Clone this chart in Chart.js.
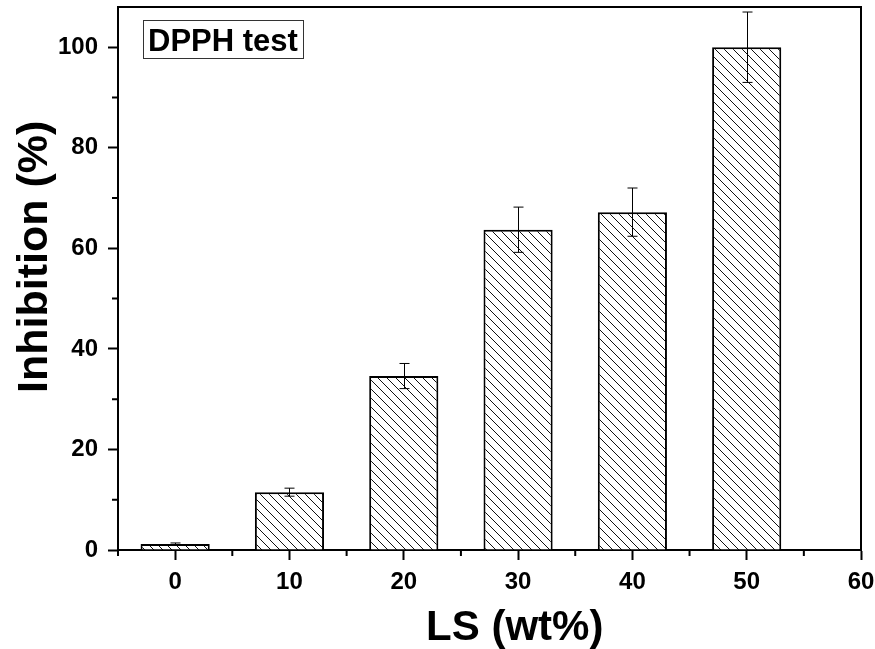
<!DOCTYPE html>
<html>
<head>
<meta charset="utf-8">
<script src="https://cdn.jsdelivr.net/npm/chart.js@4"></script>
<style>
  body { margin: 0; background: #fff; }
  #wrap { width: 875px; height: 649px; position: relative; }
</style>
</head>
<body>
<div id="wrap"><canvas id="myChart"></canvas></div>
<script>
// data
const lsValues = [0, 10, 20, 30, 40, 50];
const inhibition = [1.2, 11.5, 34.6, 63.7, 67.2, 100.0];
const errors = [0.2, 0.8, 2.5, 4.5, 4.8, 7.0];

// minor tick positions (major ones come from the scales)
const minorX = [-5, 5, 15, 25, 35, 45, 55];
const minorY = [10, 30, 50, 70, 90];

const FONT = "'Liberation Sans', Arial, sans-serif";

// diagonal hatch like the origin plot
function makeHatch(size) {
    const c = document.createElement('canvas');
    c.width = size;
    c.height = size;
    const g = c.getContext('2d');
    g.fillStyle = '#fff';
    g.fillRect(0, 0, size, size);
    g.strokeStyle = '#111';
    g.lineWidth = 1;
    g.beginPath();
    g.moveTo(-1, -1); g.lineTo(size + 1, size + 1);
    g.moveTo(size - 1, -1); g.lineTo(size + 1, 1);
    g.moveTo(-1, size - 1); g.lineTo(1, size + 1);
    g.stroke();
    return g.createPattern(c, 'repeat');
}

// error bars, minor ticks, frame and labels
const extras = {
    id: 'extras',
    afterDatasetsDraw(chart) {
        const ctx = chart.ctx;
        const xs = chart.scales.x, ys = chart.scales.y;
        ctx.save();
        ctx.strokeStyle = '#000';
        ctx.lineWidth = 1;
        lsValues.forEach((v, i) => {
            const x = Math.round(xs.getPixelForValue(v)) + 0.5;
            const top = ys.getPixelForValue(inhibition[i] + errors[i]);
            const bot = ys.getPixelForValue(inhibition[i] - errors[i]);
            ctx.beginPath();
            ctx.moveTo(x, top); ctx.lineTo(x, bot);
            ctx.moveTo(x - 5, top); ctx.lineTo(x + 5, top);
            ctx.moveTo(x - 5, bot); ctx.lineTo(x + 5, bot);
            ctx.stroke();
        });
        ctx.restore();
    },
    afterDraw(chart) {
        const ctx = chart.ctx;
        const a = chart.chartArea;
        const xs = chart.scales.x, ys = chart.scales.y;
        ctx.save();
        ctx.strokeStyle = '#000';
        ctx.lineWidth = 2;
        // top and right frame
        ctx.beginPath();
        ctx.moveTo(a.left, a.top); ctx.lineTo(a.right, a.top); ctx.lineTo(a.right, a.bottom);
        ctx.stroke();
        // minor ticks
        ctx.beginPath();
        minorX.forEach(v => {
            const x = xs.getPixelForValue(v);
            ctx.moveTo(x, a.bottom); ctx.lineTo(x, a.bottom + 6);
        });
        minorY.forEach(v => {
            const y = ys.getPixelForValue(v);
            ctx.moveTo(a.left, y); ctx.lineTo(a.left - 6, y);
        });
        ctx.stroke();

        // legend-ish box
        ctx.lineWidth = 1;
        ctx.strokeStyle = '#333';
        ctx.strokeRect(a.left + 25.5, a.top + 13.5, 160, 38);
        ctx.fillStyle = '#000';
        ctx.font = 'bold 31px ' + FONT;
        ctx.textBaseline = 'alphabetic';
        ctx.textAlign = 'left';
        ctx.fillText('DPPH test', a.left + 30, a.top + 44);

        // axis titles
        ctx.font = 'bold 42px ' + FONT;
        ctx.textAlign = 'center';
        ctx.fillText('LS (wt%)', a.left + 0.534 * (a.right - a.left), 640);
        ctx.translate(47, a.top + 0.46 * (a.bottom - a.top));
        ctx.rotate(-Math.PI / 2);
        ctx.font = 'bold 43px ' + FONT;
        ctx.fillText('Inhibition (%)', 0, 0);
        ctx.restore();
    }
};

const ctx = document.getElementById('myChart').getContext('2d');
const myChart = new Chart(ctx, {
    type: 'bar',
    data: {
        datasets: [{
            data: lsValues.map((v, i) => ({ x: v, y: inhibition[i] })),
            backgroundColor: makeHatch(9),
            borderColor: '#000',
            borderWidth: 2,
            barPercentage: 0.605,
            categoryPercentage: 1
        }]
    },
    options: {
        responsive: true,
        maintainAspectRatio: false,
        animation: false,
        layout: { padding: { top: 7, right: 14, left: 0, bottom: 0 } },
        plugins: {
            legend: { display: false },
            tooltip: { enabled: false }
        },
        scales: {
            x: {
                type: 'linear',
                offset: false,
                min: -5,
                max: 60,
                afterFit: s => {
                    s.height = 99;
                    s.paddingLeft = 0;
                    s.paddingRight = 0;
                },
                ticks: {
                    stepSize: 10,
                    includeBounds: false,
                    padding: 8,
                    color: '#000',
                    font: { family: FONT, size: 24, weight: 'bold' }
                },
                grid: {
                    drawOnChartArea: false,
                    offset: false,
                    tickLength: 10,
                    tickWidth: 2,
                    tickColor: '#000'
                },
                border: { color: '#000', width: 2 }
            },
            y: {
                min: 0,
                max: 108,
                afterFit: s => {
                    s.width = 118;
                    s.paddingTop = 0;
                    s.paddingBottom = 0;
                },
                ticks: {
                    stepSize: 20,
                    includeBounds: false,
                    padding: 10,
                    color: '#000',
                    font: { family: FONT, size: 24, weight: 'bold' }
                },
                grid: {
                    drawOnChartArea: false,
                    tickLength: 10,
                    tickWidth: 2,
                    tickColor: '#000'
                },
                border: { color: '#000', width: 2 }
            }
        }
    },
    plugins: [extras]
});
</script>
</body>
</html>
